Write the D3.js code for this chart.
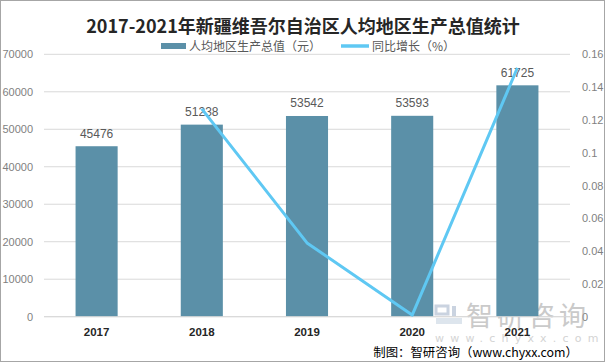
<!DOCTYPE html>
<html><head><meta charset="utf-8">
<script src="https://cdn.jsdelivr.net/npm/d3@7"></script>
<style>
body{margin:0;background:#fff;}
svg{display:block;font-family:"Noto Sans CJK SC","Noto Sans",sans-serif;}
</style></head>
<body>
<svg id="c" width="606" height="364"></svg>
<script>
const years = ["2017","2018","2019","2020","2021"];
const gdpPerCapita = [45476, 51238, 53542, 53593, 61725];
const growthRate = [null, 0.1267, 0.0450, 0.0010, 0.1517];
const leftTicks = [0,10000,20000,30000,40000,50000,60000,70000];
const rightTicks = [0,0.02,0.04,0.06,0.08,0.1,0.12,0.14,0.16];
const title = "2017-2021年新疆维吾尔自治区人均地区生产总值统计";
const legendNames = ["人均地区生产总值（元）","同比增长（%）"];

const svg = d3.select("#c");
const L = 44, R = 570, T = 54.3, B = 316.7;
const barColor = "#5b90a8", lineColor = "#5fc8f3";

svg.append("rect").attr("x",0.5).attr("y",0.5).attr("width",604).attr("height",361)
  .attr("fill","#fff").attr("stroke","#a6a6a6");

const x = d3.scaleBand().domain(years).range([L,R]).paddingInner(0.6).paddingOuter(0.3);
const y = d3.scaleLinear().domain([0,70000]).range([B,T]);
const y2 = d3.scaleLinear().domain([0,0.16]).range([B,T]);

// gridlines
svg.append("g").selectAll("line").data(leftTicks).join("line")
  .attr("x1",L).attr("x2",R).attr("y1",d=>y(d)).attr("y2",d=>y(d))
  .attr("stroke","#d9d9d9").attr("stroke-width",1);

// left axis
const ga = svg.append("g").attr("transform",`translate(${L-11},0)`)
  .call(d3.axisLeft(y).tickValues(leftTicks).tickSize(0).tickPadding(0).tickFormat(d3.format("d")));
ga.select(".domain").remove();
ga.selectAll("text").attr("fill","#7f7f7f").attr("font-size",11).attr("font-family","'Liberation Sans',Arial,sans-serif");

// right axis
const gr = svg.append("g").attr("transform",`translate(${R+12},0)`)
  .call(d3.axisRight(y2).tickValues(rightTicks).tickSize(0).tickPadding(0).tickFormat(d=>String(+d.toFixed(2))));
gr.select(".domain").remove();
gr.selectAll("text").attr("fill","#7f7f7f").attr("font-size",11).attr("font-family","'Liberation Sans',Arial,sans-serif");

// watermark
const wm = svg.append("g").attr("opacity",0.55);
wm.append("text").attr("x",466).attr("y",326).attr("font-size",27).attr("fill","#a0a0a0").attr("letter-spacing",4).text("智研咨询");
wm.append("text").attr("x",435).attr("y",342).attr("font-size",11).attr("fill","#b0b0b0").attr("letter-spacing",6.2)
  .attr("font-family","'DejaVu Sans',sans-serif").text("www.chyxx.com");
wm.append("rect").attr("x",436).attr("y",306).attr("width",12).attr("height",8).attr("fill","none").attr("stroke","#9fb0c8").attr("stroke-width",3);
wm.append("rect").attr("x",436).attr("y",318).attr("width",26).attr("height",6).attr("fill","#c3d0e0");
wm.append("rect").attr("x",452).attr("y",306).attr("width",4).attr("height",10).attr("fill","#9fb0c8");

// bars
svg.append("g").selectAll("rect").data(years).join("rect")
  .attr("x",d=>x(d)).attr("width",x.bandwidth())
  .attr("y",(d,i)=>y(gdpPerCapita[i])).attr("height",(d,i)=>B-y(gdpPerCapita[i]))
  .attr("fill",barColor);

// baseline
svg.append("line").attr("x1",L).attr("x2",R).attr("y1",B).attr("y2",B).attr("stroke","#d9d9d9");

// bar labels
svg.append("g").selectAll("text").data(years).join("text")
  .attr("x",d=>x(d)+x.bandwidth()/2).attr("y",(d,i)=>y(gdpPerCapita[i])-8.5)
  .attr("text-anchor","middle").attr("font-size",12).attr("fill","#595959")
  .attr("font-family","'Liberation Sans',Arial,sans-serif")
  .text((d,i)=>gdpPerCapita[i]);

// line
const pts = years.map((d,i)=>({d, v:growthRate[i]})).filter(p=>p.v!==null);
svg.append("path").datum(pts)
  .attr("d", d3.line().x(p=>x(p.d)+x.bandwidth()/2).y(p=>y2(p.v)))
  .attr("fill","none").attr("stroke",lineColor).attr("stroke-width",3).attr("stroke-linejoin","round");

// x labels
svg.append("g").selectAll("text").data(years).join("text")
  .attr("x",d=>x(d)+x.bandwidth()/2).attr("y",336)
  .attr("text-anchor","middle").attr("font-size",11.5).attr("font-weight","bold").attr("fill","#262626")
  .attr("font-family","'Liberation Sans',Arial,sans-serif")
  .text(d=>d);

// title
svg.append("text").attr("x",303).attr("y",33).attr("text-anchor","middle")
  .attr("font-size",18).attr("font-weight","bold").attr("fill","#262626").text(title);

// legend
svg.append("rect").attr("x",161).attr("y",43).attr("width",25).attr("height",6).attr("fill",barColor);
svg.append("text").attr("x",189).attr("y",50.5).attr("font-size",12).attr("fill","#595959").text(legendNames[0]);
svg.append("line").attr("x1",341).attr("x2",369).attr("y1",46).attr("y2",46).attr("stroke",lineColor).attr("stroke-width",3.5);
svg.append("text").attr("x",372).attr("y",50.5).attr("font-size",12).attr("fill","#595959").text(legendNames[1]);

// footer
svg.append("text").attr("x",578).attr("y",357).attr("text-anchor","end").attr("font-size",12.4).attr("fill","#000")
  .text("制图：智研咨询（www.chyxx.com）");
</script>
</body></html>
